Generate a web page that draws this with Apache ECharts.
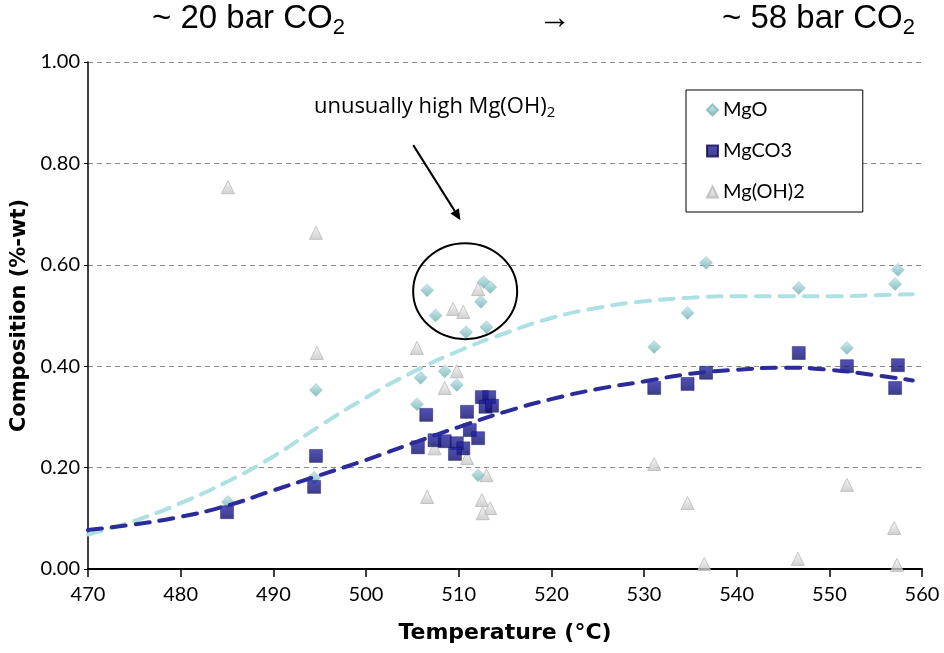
<!DOCTYPE html>
<html>
<head>
<meta charset="utf-8">
<title>Composition vs temperature</title>
<script src="https://cdn.jsdelivr.net/npm/echarts@6/dist/echarts.min.js"></script>
<style>
  html, body { margin: 0; padding: 0; background: #fff; }
  #main { width: 944px; height: 653px; }
</style>
</head>
<body>
<div id="main"></div>
<script>
// measured points, [temperature °C, composition]
var mgoPoints = [
  [485.1, 0.132], [494.6, 0.353], [505.9, 0.377], [508.5, 0.390], [509.8, 0.363],
  [505.5, 0.325], [512.1, 0.185], [506.6, 0.550], [512.7, 0.566], [513.4, 0.556],
  [512.4, 0.527], [507.5, 0.500], [510.8, 0.467], [513.0, 0.477], [494.4, 0.180],
  [531.1, 0.438], [534.7, 0.505], [536.7, 0.604], [546.7, 0.554], [551.9, 0.436],
  [557.4, 0.590], [557.1, 0.562]
];
var mgco3Points = [
  [485.0, 0.112], [494.6, 0.223], [494.4, 0.162], [505.6, 0.240], [506.5, 0.304],
  [507.4, 0.254], [508.5, 0.252], [509.8, 0.248], [510.5, 0.238], [509.6, 0.227],
  [510.9, 0.310], [511.2, 0.274], [512.1, 0.258], [512.5, 0.339], [513.3, 0.339],
  [512.9, 0.320], [513.6, 0.322],
  [531.1, 0.357], [534.7, 0.365], [536.7, 0.387], [546.7, 0.426], [551.9, 0.400],
  [557.4, 0.402], [557.1, 0.357]
];
var mgoh2Points = [
  [485.1, 0.753], [494.6, 0.663], [494.7, 0.426], [505.5, 0.436], [508.5, 0.357],
  [509.8, 0.390], [507.4, 0.238], [510.9, 0.219], [513.0, 0.185], [506.6, 0.142],
  [512.5, 0.136], [513.4, 0.120], [512.6, 0.110], [512.1, 0.552], [509.4, 0.513],
  [510.5, 0.507],
  [531.1, 0.207], [534.7, 0.130], [536.5, 0.010], [546.6, 0.020], [551.9, 0.166],
  [557.0, 0.081], [557.3, 0.008]
];

// dashed trend curves
var fitTemps = [470, 475, 480, 485, 490, 495, 500, 505, 510, 515, 520, 525, 530, 535, 540, 545, 550, 555, 559];
var mgoFit   = [0.068, 0.095, 0.130, 0.172, 0.222, 0.282, 0.338, 0.388, 0.430, 0.465, 0.495, 0.515, 0.528, 0.535, 0.538, 0.538, 0.538, 0.540, 0.542];
var mgco3Fit = [0.077, 0.088, 0.103, 0.125, 0.155, 0.185, 0.215, 0.248, 0.280, 0.310, 0.335, 0.355, 0.370, 0.385, 0.393, 0.397, 0.393, 0.382, 0.372];

var tickFont = 'Lato, "DejaVu Sans", sans-serif';
var nameFont = '"DejaVu Sans", sans-serif';

function zip(xs, ys) {
  return xs.map(function (x, i) { return [x, ys[i]]; });
}

var chart = echarts.init(document.getElementById('main'));

var option = {
  animation: false,
  backgroundColor: '#fff',
  grid: { left: 88, right: 22, top: 62, bottom: 84 },
  xAxis: {
    type: 'value', min: 470, max: 560, interval: 10,
    name: 'Temperature (°C)', nameLocation: 'middle', nameGap: 53,
    nameTextStyle: { fontFamily: nameFont, fontWeight: 'bold', fontSize: 22, color: '#000' },
    axisLine: { lineStyle: { color: '#000', width: 2 } },
    axisTick: { length: 8, lineStyle: { color: '#000', width: 1.5 } },
    axisLabel: { fontFamily: tickFont, fontSize: 20, color: '#000', margin: 16 },
    splitLine: { show: false }
  },
  yAxis: {
    type: 'value', min: 0, max: 1, interval: 0.2,
    name: 'Composition (%-wt)', nameLocation: 'middle', nameGap: 53,
    nameTextStyle: { fontFamily: nameFont, fontWeight: 'bold', fontSize: 21, color: '#000' },
    axisLine: { show: true, lineStyle: { color: '#000', width: 1.5 } },
    axisTick: { show: true, length: 4, lineStyle: { color: '#000' } },
    axisLabel: {
      fontFamily: tickFont, fontSize: 20, color: '#000', margin: 8,
      formatter: function (v) { return v.toFixed(2); }
    },
    splitLine: { lineStyle: { color: '#888', type: [5, 4], width: 1 } }
  },
  legend: {
    orient: 'vertical', left: 686, top: 90,
    data: ['MgO', 'MgCO3', 'Mg(OH)2'],
    backgroundColor: '#fff', borderColor: '#000', borderWidth: 1,
    padding: [10, 58, 10, 20],
    itemWidth: 11, itemHeight: 11, itemGap: 21, itemTextGap: 6,
    textStyle: { fontFamily: tickFont, fontSize: 20, color: '#000' }
  },
  series: [
    {
      name: 'MgO', type: 'scatter', symbol: 'diamond', symbolSize: 13,
      itemStyle: {
        color: new echarts.graphic.LinearGradient(0, 0, 0, 1, [
          { offset: 0, color: '#bfe6e8' }, { offset: 1, color: '#6aabaf' }
        ]),
        borderColor: '#7fb9bc', borderWidth: 0.5
      },
      data: mgoPoints, z: 3
    },
    {
      name: 'MgCO3', type: 'scatter', symbol: 'rect', symbolSize: 13,
      itemStyle: {
        color: new echarts.graphic.LinearGradient(0, 0, 0, 1, [
          { offset: 0, color: '#2626a6' }, { offset: 1, color: '#0c0c6a' }
        ]),
        borderColor: '#0a0a55', borderWidth: 0.5
      },
      data: mgco3Points, z: 4
    },
    {
      name: 'Mg(OH)2', type: 'scatter', symbol: 'triangle', symbolSize: 13,
      itemStyle: {
        color: new echarts.graphic.LinearGradient(0, 0, 0, 1, [
          { offset: 0, color: '#f4f4f4' }, { offset: 1, color: '#c4c4c4' }
        ]),
        borderColor: '#b8b8b8', borderWidth: 1
      },
      data: mgoh2Points, z: 2
    },
    {
      name: 'MgO fit', type: 'line', smooth: true, symbol: 'none',
      lineStyle: { color: '#ade0e2', width: 4, type: [14, 10], cap: 'round' },
      data: zip(fitTemps, mgoFit), z: 5, silent: true
    },
    {
      name: 'MgCO3 fit', type: 'line', smooth: true, symbol: 'none',
      lineStyle: { color: '#2b2b9c', width: 4, type: [14, 10], cap: 'round' },
      data: zip(fitTemps, mgco3Fit), z: 6, silent: true
    }
  ]
};

chart.setOption(option);

// headings and the annotation, placed from data coordinates
function px(t, v) { return chart.convertToPixel({ gridIndex: 0 }, [t, v]); }

var circleC = px(510.7, 0.548);
var arrowFrom = px(505.1, 0.836);
var arrowTo = px(510.2, 0.688);
var noteAt = px(507.4, 0.912);

var ang = Math.atan2(arrowTo[1] - arrowFrom[1], arrowTo[0] - arrowFrom[0]);
var headLen = 11, headW = 5;
var hx = arrowTo[0] - headLen * Math.cos(ang), hy = arrowTo[1] - headLen * Math.sin(ang);
var head = [
  [arrowTo[0], arrowTo[1]],
  [hx + headW * Math.sin(ang), hy - headW * Math.cos(ang)],
  [hx - headW * Math.sin(ang), hy + headW * Math.cos(ang)]
];

var headRich = {
  a: { fontFamily: 'Liberation Sans, Arial, sans-serif', fontSize: 33, lineHeight: 40, verticalAlign: 'middle', fill: '#000' },
  b: { fontFamily: 'Liberation Sans, Arial, sans-serif', fontSize: 22, lineHeight: 22, verticalAlign: 'bottom', fill: '#000' }
};
var noteRich = {
  a: { fontFamily: '"Open Sans", sans-serif', fontSize: 22, lineHeight: 28, verticalAlign: 'middle', fill: '#000' },
  b: { fontFamily: '"Open Sans", sans-serif', fontSize: 15, lineHeight: 15, verticalAlign: 'bottom', fill: '#000' }
};

chart.setOption({
  graphic: [
    { type: 'text', left: 152, top: 2, style: { text: '{a|~ 20 bar CO}{b|2}', rich: headRich } },
    { type: 'text', left: 538, top: 2, style: { text: '{a|→}', rich: headRich } },
    { type: 'text', left: 722, top: 2, style: { text: '{a|~ 58 bar CO}{b|2}', rich: headRich } },
    {
      type: 'text', x: noteAt[0], y: noteAt[1],
      style: { text: '{a|unusually high Mg(OH)}{b|2}', rich: noteRich, align: 'center', verticalAlign: 'middle' }
    },
    {
      type: 'ellipse', shape: { cx: circleC[0], cy: circleC[1], rx: 52, ry: 48 },
      style: { fill: null, stroke: '#000', lineWidth: 2 }, z: 10
    },
    {
      type: 'line', shape: { x1: arrowFrom[0], y1: arrowFrom[1], x2: hx, y2: hy },
      style: { stroke: '#000', lineWidth: 2 }, z: 10
    },
    { type: 'polygon', shape: { points: head }, style: { fill: '#000' }, z: 10 }
  ]
});
</script>
</body>
</html>
